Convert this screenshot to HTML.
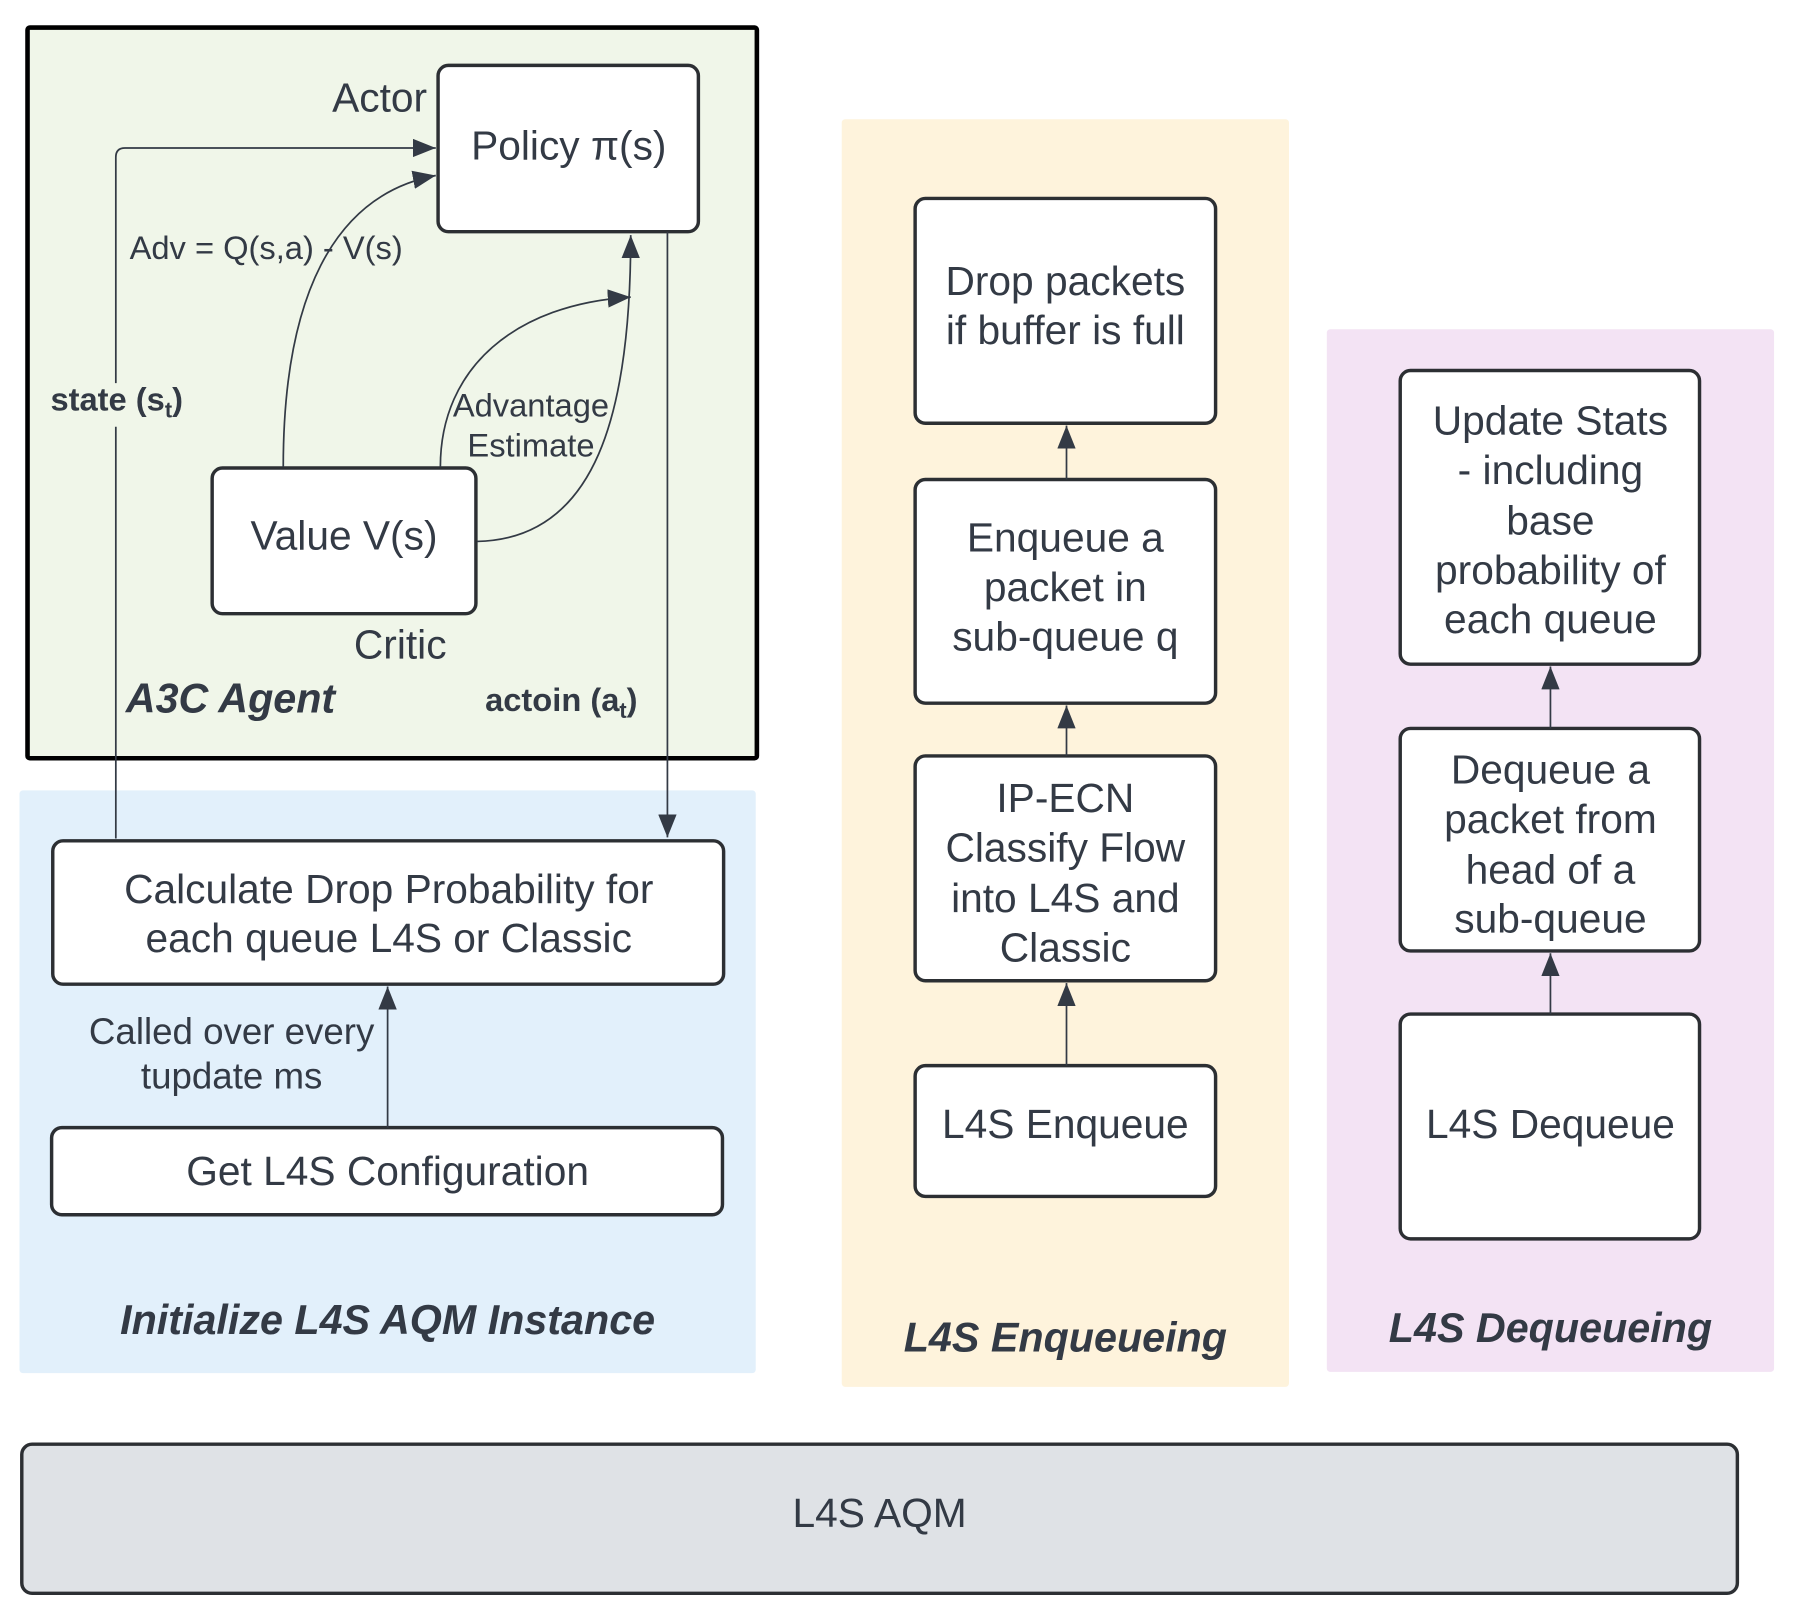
<!DOCTYPE html>
<html><head><meta charset="utf-8"><style>
html,body{margin:0;padding:0;background:#fff}
svg{display:block}
text{font-family:"Liberation Sans",sans-serif;fill:#333a45}
</style></head><body>
<svg width="1797" height="1622" viewBox="0 0 1567 1414" preserveAspectRatio="none" xmlns="http://www.w3.org/2000/svg">
<defs>
<marker id="a2" viewBox="0 0 20 16" refX="20" refY="8" markerWidth="20" markerHeight="16" markerUnits="userSpaceOnUse" orient="auto">
<path d="M0,0 L20,8 L0,16 z" fill="#333a45"/></marker>
</defs>
<rect x="24" y="24" width="636" height="637" fill="#f0f6e9" stroke="#000" stroke-width="4" rx="2"/>
<rect x="17" y="689" width="642" height="508" fill="#e2f0fb" rx="3"/>
<rect x="734" y="104" width="390" height="1105" fill="#fef3dc" rx="3"/>
<rect x="1157" y="287" width="390" height="909" fill="#f3e3f4" rx="3"/>
<rect x="19" y="1259" width="1496" height="130" fill="#dfe2e6" stroke="#2c2f33" stroke-width="3" rx="9"/>

<g fill="#fff" stroke="#2c2f33" stroke-width="3">
<rect x="382" y="57" width="227" height="145" rx="9"/>
<rect x="185" y="408" width="230" height="127" rx="9"/>
<rect x="46" y="733" width="585" height="125" rx="9"/>
<rect x="45" y="983" width="585" height="76" rx="9"/>
<rect x="798" y="173" width="262" height="196" rx="9"/>
<rect x="798" y="418" width="262" height="195" rx="9"/>
<rect x="798" y="659" width="262" height="196" rx="9"/>
<rect x="798" y="929" width="262" height="114" rx="9"/>
<rect x="1221" y="323" width="261" height="256" rx="9"/>
<rect x="1221" y="635" width="261" height="194" rx="9"/>
<rect x="1221" y="884" width="261" height="196" rx="9"/>
</g>

<g fill="none" stroke="#333a45" stroke-width="1.5">
<path d="M101,731 V372 M101,334 V137 Q101,129 109,129 H380" marker-end="url(#a2)"/>
<path d="M582,202 V730" marker-end="url(#a2)"/>
<path d="M247,407 C247,260 290,170 380,153" marker-end="url(#a2)"/>
<path d="M384,407 C384,320 450,265 550,259" marker-end="url(#a2)"/>
<path d="M416,472 C520,470 550,360 550,205" marker-end="url(#a2)"/>
<path d="M338,983 V860" marker-end="url(#a2)"/>
<path d="M930,929 V857" marker-end="url(#a2)"/>
<path d="M930,659 V615" marker-end="url(#a2)"/>
<path d="M930,418 V371" marker-end="url(#a2)"/>
<path d="M1352,884 V831" marker-end="url(#a2)"/>
<path d="M1352,635 V581" marker-end="url(#a2)"/>
</g>

<g font-size="35.5" text-anchor="middle">
<text x="496" y="139">Policy π(s)</text>
<text x="300" y="479">Value V(s)</text>
<text x="331" y="97">Actor</text>
<text x="349" y="574">Critic</text>
<text x="339" y="787">Calculate Drop Probability for</text>
<text x="339" y="830">each queue L4S or Classic</text>
<text x="338" y="1033">Get L4S Configuration</text>
<text x="929" y="257">Drop packets</text>
<text x="929" y="300">if buffer is full</text>
<text x="929" y="481">Enqueue a</text>
<text x="929" y="524">packet in</text>
<text x="929" y="567">sub-queue q</text>
<text x="929" y="708">IP-ECN</text>
<text x="929" y="751">Classify Flow</text>
<text x="929" y="795">into L4S and</text>
<text x="929" y="838">Classic</text>
<text x="929" y="992">L4S Enqueue</text>
<text x="1352" y="379">Update Stats</text>
<text x="1352" y="422">- including</text>
<text x="1352" y="466">base</text>
<text x="1352" y="509">probability of</text>
<text x="1352" y="552">each queue</text>
<text x="1352" y="683">Dequeue a</text>
<text x="1352" y="726">packet from</text>
<text x="1352" y="770">head of a</text>
<text x="1352" y="813">sub-queue</text>
<text x="1352" y="992">L4S Dequeue</text>
<text x="767" y="1331">L4S AQM</text>
</g>
<g font-size="32" text-anchor="middle">
<text x="202" y="910">Called over every</text>
<text x="202" y="949">tupdate ms</text>
</g>
<g font-size="28.5">
<text x="113" y="226">Adv = Q(s,a) - V(s)</text>
<text x="463" y="363" text-anchor="middle">Advantage</text>
<text x="463" y="398" text-anchor="middle">Estimate</text>
<text x="44" y="358" font-weight="bold">state (s<tspan font-size="19" dy="6">t</tspan><tspan dy="-6">)</tspan></text>
<text x="423" y="620" font-weight="bold">actoin (a<tspan font-size="19" dy="6">t</tspan><tspan dy="-6">)</tspan></text>
</g>
<g font-size="36" font-weight="bold" font-style="italic" text-anchor="middle">
<text x="201" y="621">A3C Agent</text>
<text x="338" y="1163">Initialize L4S AQM Instance</text>
<text x="929" y="1178">L4S Enqueueing</text>
<text x="1352" y="1170">L4S Dequeueing</text>
</g>
</svg>
</body></html>
